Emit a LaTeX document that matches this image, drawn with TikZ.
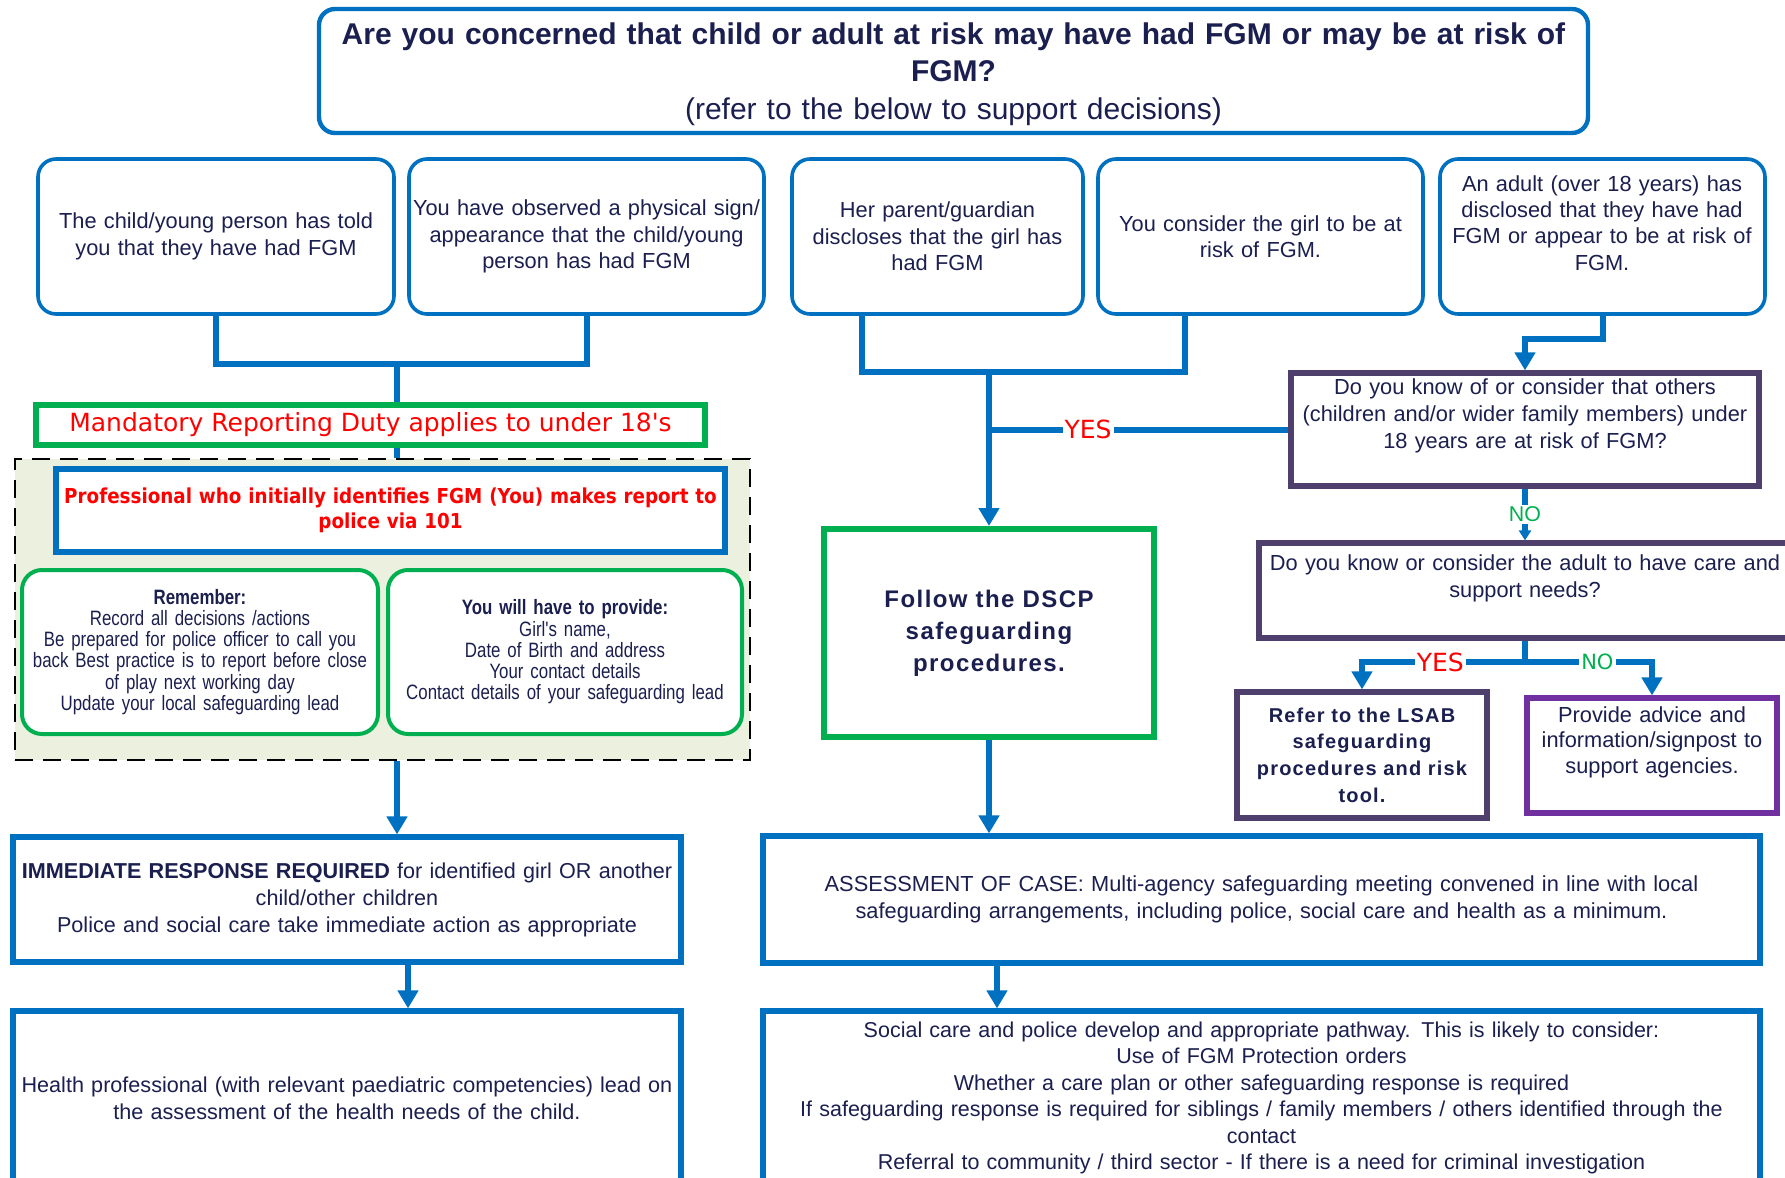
\documentclass[tikz,border=0pt]{standalone}
\usepackage{fontspec}
\setmainfont{Liberation Sans}
\newfontfamily\narrowf[FakeStretch=0.81]{Liberation Sans}
\newfontfamily\tahoma{DejaVu Sans}
\newfontfamily\tahomab[FakeStretch=0.89]{DejaVu Sans}
\newfontfamily\spacedf[LetterSpace=6]{Liberation Sans}
\usetikzlibrary{arrows.meta,calc}
\definecolor{cblue}{HTML}{0070C0}
\definecolor{cgreen}{HTML}{00B050}
\definecolor{cred}{HTML}{FF0000}
\definecolor{cdpurp}{HTML}{4E3F6C}
\definecolor{cpurp}{HTML}{7030A0}
\definecolor{ctext}{HTML}{1B1F4F}
\definecolor{cfill}{HTML}{EBF1DE}
\tikzset{
  area/.style n args={4}{at={({(#1+#3)/2},{(#2+#4)/2})}, anchor=center,
    minimum width={(#3-#1)*0.5pt}, minimum height={(#4-#2)*0.5pt}},
  base/.style={inner sep=0pt, align=center},
  rbox/.style={base, draw=cblue, line width=1.8pt, rounded corners=9pt, fill=white},
  sbox/.style={base, draw=cblue, line width=2.6pt, fill=white},
  gbox/.style={base, draw=cgreen, line width=2.6pt, fill=white},
  qbox/.style={base, draw=cdpurp, line width=2.6pt, fill=white},
  dashbox/.style={base, draw=black, line width=1.3pt, dash pattern=on 9pt off 5pt, fill=cfill},
  conn/.style={draw=cblue, line width=3pt},
  arr/.style={conn, -{Triangle[length=9pt,width=10pt]}},
  sarr/.style={conn, -{Triangle[length=5pt,width=6pt]}},
  lbl/.style={fill=white, inner sep=1pt},
  txt/.style={align=center, inner sep=0pt},
}
\begin{document}
\begin{tikzpicture}[x=0.5pt,y=-0.5pt,
  every node/.style={text=ctext, font=\fontsize{10.9}{13.2}\selectfont}]
\useasboundingbox (0,0) rectangle (1785,1178);
\clip (0,0) rectangle (1785,1178);

% title
\node[rbox, line width=2.2pt, rounded corners=8pt, area={319}{9}{1588}{133}] (top) {};
\node[txt, text width=630pt, font=\fontsize{15}{18.7}\selectfont] (topt) at (953.5,74)
  {\textbf{Are you concerned that child or adult at risk may have had FGM or may be at risk of}\\
   \textbf{FGM?}\\(refer to the below to support decisions)};

% top row
\node[rbox, area={38}{159}{394}{314}, text width=172pt] (b1)
  {The child/young person has told\\you that they have had FGM};
\node[rbox, area={409}{159}{764}{314}, text width=176pt] (b2)
  {You have observed a physical sign/\\appearance that the child/young\\person has had FGM};
\node[rbox, area={792}{159}{1083}{314}, text width=142pt] (b3)
  {Her parent/guardian\\discloses that the girl has\\had FGM};
\node[rbox, area={1098}{159}{1423}{314}, text width=160pt] (b4)
  {You consider the girl to be at\\risk of FGM.};
\node[rbox, area={1440}{159}{1765}{314}] (b5) {};
\node[txt, text width=160pt] (b5t) at (1602,223)
  {An adult (over 18 years) has\\disclosed that they have had\\FGM or appear to be at risk of\\FGM.};

% left column
\node[gbox, area={36}{405}{705}{445}, text=cred, font=\tahoma\fontsize{12.5}{14}\selectfont] (mand)
  {Mandatory Reporting Duty applies to under 18's};
\node[dashbox, area={15}{459}{750}{760}] (dash) {};
\node[sbox, line width=3pt, area={56}{469}{725}{552}, text=cred, text width=330pt,
  font=\tahomab\bfseries\fontsize{10.3}{12.6}\selectfont] (prof)
  {Professional who initially identifies FGM (You) makes report to\\police via 101};
\node[gbox, line width=2pt, rounded corners=10pt, area={22}{570}{378}{734}, text width=176pt,
  font=\narrowf\fontsize{10.4}{10.6}\selectfont] (rem)
  {\textbf{Remember:}\\Record all decisions /actions\\Be prepared for police officer to call you\\back Best practice is to report before close\\of play next working day\\Update your local safeguarding lead};
\node[gbox, line width=2pt, rounded corners=10pt, area={388}{570}{742}{734}, text width=176pt,
  font=\narrowf\fontsize{10.4}{10.6}\selectfont] (prov)
  {\textbf{You will have to provide:}\\Girl's name,\\Date of Birth and address\\Your contact details\\Contact details of your safeguarding lead};
\node[sbox, area={13}{837}{681}{962}, text width=330pt, font=\fontsize{10.8}{13.5}\selectfont] (imm)
  {\textbf{IMMEDIATE RESPONSE REQUIRED} for identified girl OR another\\child/other children\\Police and social care take immediate action as appropriate};
\node[sbox, area={13}{1011}{681}{1185}, text width=330pt, font=\fontsize{10.8}{13.5}\selectfont] (health)
  {Health professional (with relevant paediatric competencies) lead on\\the assessment of the health needs of the child.};

% middle column
\node[gbox, line width=3pt, area={824}{529}{1154}{737}, text width=160pt,
  font=\spacedf\bfseries\fontsize{12}{16}\selectfont] (dscp)
  {Follow the DSCP\\safeguarding\\procedures.};
\node[sbox, area={763}{836}{1760}{963}, text width=490pt, font=\fontsize{10.9}{13.5}\selectfont] (assess)
  {ASSESSMENT OF CASE: Multi-agency safeguarding meeting convened in line with local\\safeguarding arrangements, including police, social care and health as a minimum.};
\node[sbox, area={763}{1011}{1760}{1185}, text width=490pt, font=\fontsize{10.75}{13.2}\selectfont] (social)
  {Social care and police develop and appropriate pathway. This is likely to consider:\\Use of FGM Protection orders\\Whether a care plan or other safeguarding response is required\\If safeguarding response is required for siblings / family members / others identified through the\\contact\\Referral to community / third sector - If there is a need for criminal investigation};

% right column
\node[qbox, area={1291}{373}{1759}{486}] (q1) {};
\node[txt, text width=230pt, font=\fontsize{10.9}{13.5}\selectfont] (q1t) at (1525,416)
  {Do you know of or consider that others\\(children and/or wider family members) under\\18 years are at risk of FGM?};
\node[qbox, area={1259}{543}{1791}{638}] (q2) {};
\node[txt, text width=260pt, font=\fontsize{10.9}{13.5}\selectfont] (q2t) at (1525,578.5)
  {Do you know or consider the adult to have care and\\support needs?};
\node[qbox, area={1237}{692}{1487}{818}, text width=122pt,
  font=\spacedf\bfseries\fontsize{10}{13.3}\selectfont] (lsab)
  {Refer to the LSAB\\safeguarding\\procedures and risk\\tool.};
\node[qbox, draw=cpurp, area={1527}{698}{1777}{813}] (adv) {};
\node[txt, text width=120pt, font=\fontsize{10.9}{12.8}\selectfont] (advt) at (1652,742)
  {Provide advice and\\information/signpost to\\support agencies.};

% connectors: left
\coordinate (j1) at (397,364);
\draw[conn] (b1.south) -- (b1.south |- j1) -- (b2.south |- j1) -- (b2.south);
\draw[conn] (j1) -- (j1 |- mand.north);
\draw[conn] (j1 |- mand.south) -- (j1 |- dash.north);
\draw[arr] (j1 |- dash.south) -- (j1 |- imm.north);
\coordinate (c2) at (408,0);
\draw[arr] (imm.south -| c2) -- (health.north -| c2);

% connectors: middle
\coordinate (j2) at (989,372);
\coordinate (b3c) at ($(b3.south)+(-76,0)$);
\coordinate (b4c) at ($(b4.south)+(-76,0)$);
\draw[conn] (b3c) -- (b3c |- j2) -- (b4c |- j2) -- (b4c);
\draw[arr] (j2) -- (dscp.north);
\draw[conn] (q1.west) -- (q1.west -| j2)
  node[pos=0.669, lbl, text=cred, font=\tahoma\fontsize{12.5}{14}\selectfont] (yes1) {YES};
\draw[arr] (dscp.south) -- (dscp.south |- assess.north);
\coordinate (c3) at (997,0);
\draw[arr] (assess.south -| c3) -- (social.north -| c3);

% connectors: right
\draw[arr] (b5.south) -- ++(0,23) -| (q1.north);
\draw[sarr] (q1.south) -- (q2.north)
  node[midway, lbl, text=cgreen, font=\fontsize{10.7}{12}\selectfont] (no1) {NO};
\coordinate (j3) at (1525,662);
\draw[conn] (q2.south) -- (j3);
\draw[arr] (j3) -- (j3 -| lsab.north)
  node[pos=0.52, lbl, text=cred, font=\tahoma\fontsize{12.5}{14}\selectfont] (yes2) {YES}
  -- (lsab.north);
\draw[arr] (j3) -- (j3 -| adv.north)
  node[pos=0.57, lbl, text=cgreen, font=\tahoma\fontsize{10.5}{12}\selectfont] (no2) {NO}
  -- (adv.north);
\end{tikzpicture}
\end{document}
